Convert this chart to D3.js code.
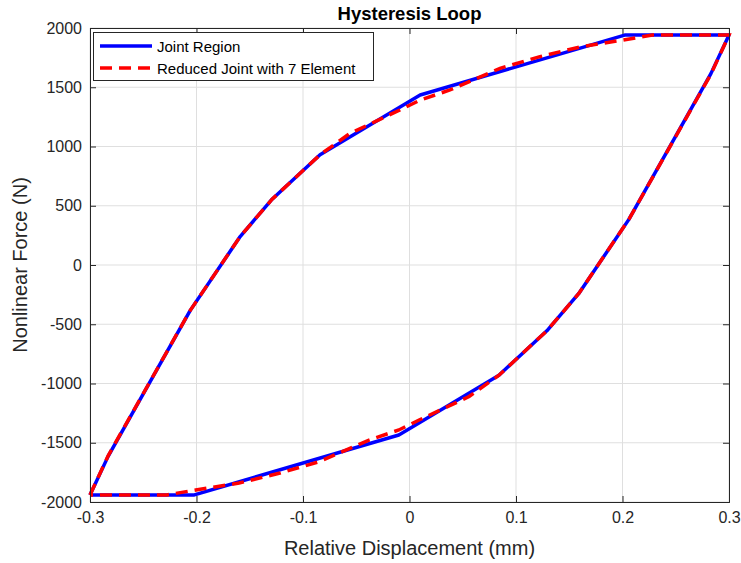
<!DOCTYPE html>
<html>
<head>
<meta charset="utf-8">
<script src="https://cdn.jsdelivr.net/npm/d3@7"></script>
<style>
  body { margin: 0; background: #fff; }
  svg { display: block; font-family: "Liberation Sans", Arial, Helvetica, sans-serif; }
</style>
</head>
<body>
<svg id="chart" width="741" height="563"></svg>
<script>
// ---- data ----
const xTicks = [-0.3, -0.2, -0.1, 0, 0.1, 0.2, 0.3];
const xTickLabels = ["-0.3", "-0.2", "-0.1", "0", "0.1", "0.2", "0.3"];
const yTicks = [-2000, -1500, -1000, -500, 0, 500, 1000, 1500, 2000];
const yTickLabels = ["-2000", "-1500", "-1000", "-500", "0", "500", "1000", "1500", "2000"];

// Joint Region loop (upper branch then lower branch)
const jointX = [-0.300, -0.283, -0.206, -0.159, -0.129, -0.084, 0.010, 0.202, 0.300,
                 0.283, 0.206, 0.159, 0.129, 0.084, -0.010, -0.202, -0.300];
const jointF = [-1940, -1615, -385, 240, 555, 930, 1435, 1940, 1940,
                 1615, 385, -240, -555, -930, -1435, -1940, -1940];

// Reduced Joint with 7 Element loop
const reducedX = [-0.300, -0.283, -0.206, -0.159, -0.129, -0.084, -0.056, -0.009, 0.010, 0.038, 0.085, 0.1225, 0.160, 0.2007, 0.228, 0.300,
                   0.283, 0.206, 0.159, 0.129, 0.084, 0.056, 0.009, -0.010, -0.038, -0.085, -0.1225, -0.160, -0.2007, -0.228, -0.300];
const reducedF = [-1940, -1610, -385, 240, 555, 930, 1110, 1308, 1392, 1477, 1660, 1758, 1840, 1899, 1940, 1940,
                   1610, 385, -240, -555, -930, -1110, -1308, -1392, -1477, -1660, -1758, -1840, -1899, -1940, -1940];

const seriesNames = ["Joint Region", "Reduced Joint with 7 Element"];

// ---- chart ----
const svg = d3.select("#chart");
const L = 90, R = 729, T = 28, B = 502;
const x = d3.scaleLinear().domain([-0.3, 0.3]).range([L, R]);
const y = d3.scaleLinear().domain([-2000, 2000]).range([B, T]);
const axisColor = "#262626";

// grid
const g = svg.append("g");
g.selectAll(".gx").data(xTicks).enter().append("line")
  .attr("x1", d => x(d)).attr("x2", d => x(d)).attr("y1", T).attr("y2", B)
  .attr("stroke", "#dfdfdf").attr("stroke-width", 1);
g.selectAll(".gy").data(yTicks).enter().append("line")
  .attr("y1", d => y(d)).attr("y2", d => y(d)).attr("x1", L).attr("x2", R)
  .attr("stroke", "#dfdfdf").attr("stroke-width", 1);

// lines
const line = d3.line().x(d => x(d[0])).y(d => y(d[1]));
const jointPts = jointX.map((v, i) => [v, jointF[i]]);
const redPts = reducedX.map((v, i) => [v, reducedF[i]]);

svg.append("path").datum(jointPts).attr("d", line)
  .attr("fill", "none").attr("stroke", "#0000ff").attr("stroke-width", 3.5)
  .attr("stroke-linejoin", "round");
svg.append("path").datum(redPts).attr("d", line)
  .attr("fill", "none").attr("stroke", "#ff0000").attr("stroke-width", 3.5)
  .attr("stroke-dasharray", "12,7");

// axes (MATLAB style box, ticks inward)
const tickLen = 6;
const axB = d3.axisBottom(x).tickValues(xTicks).tickSize(-tickLen).tickPadding(10)
  .tickFormat((d, i) => xTickLabels[i]);
const axT = d3.axisTop(x).tickValues(xTicks).tickSize(-tickLen).tickFormat("");
const axLf = d3.axisLeft(y).tickValues(yTicks).tickSize(-tickLen).tickPadding(8)
  .tickFormat((d, i) => yTickLabels[i]);
const axRt = d3.axisRight(y).tickValues(yTicks).tickSize(-tickLen).tickFormat("");

function style(sel) {
  sel.selectAll("path").attr("stroke", axisColor).attr("stroke-width", 1);
  sel.selectAll("line").attr("stroke", axisColor);
  sel.selectAll("text").attr("fill", axisColor).attr("font-size", 16)
     .attr("font-family", "Liberation Sans, Arial, sans-serif");
}
svg.append("g").attr("transform", `translate(0,${B})`).call(axB).call(style);
svg.append("g").attr("transform", `translate(0,${T})`).call(axT).call(style);
svg.append("g").attr("transform", `translate(${L},0)`).call(axLf).call(style);
svg.append("g").attr("transform", `translate(${R},0)`).call(axRt).call(style);

// title & labels
svg.append("text").attr("x", (L + R) / 2).attr("y", 20).attr("text-anchor", "middle")
  .attr("font-weight", "bold").attr("font-size", 18.5).attr("fill", "#000").text("Hysteresis Loop");
svg.append("text").attr("x", (L + R) / 2).attr("y", 555).attr("text-anchor", "middle")
  .attr("font-size", 20).attr("fill", axisColor).text("Relative Displacement (mm)");
svg.append("text").attr("transform", `translate(27,${(T + B) / 2}) rotate(-90)`)
  .attr("text-anchor", "middle").attr("font-size", 20).attr("fill", axisColor).text("Nonlinear Force (N)");

// legend
const lg = svg.append("g");
lg.append("rect").attr("x", 93.5).attr("y", 32.5).attr("width", 280).attr("height", 48)
  .attr("fill", "#fff").attr("stroke", axisColor).attr("stroke-width", 1);
const legendStyles = [
  { color: "#0000ff", dash: null },
  { color: "#ff0000", dash: "12,7" }
];
seriesNames.forEach((name, i) => {
  const yy = 46 + i * 22;
  lg.append("line").attr("x1", 100).attr("x2", 152).attr("y1", yy).attr("y2", yy)
    .attr("stroke", legendStyles[i].color).attr("stroke-width", 3.5)
    .attr("stroke-dasharray", legendStyles[i].dash);
  lg.append("text").attr("x", 157).attr("y", yy + 5.5).attr("font-size", 15)
    .attr("fill", "#000").text(name);
});
</script>
</body>
</html>
